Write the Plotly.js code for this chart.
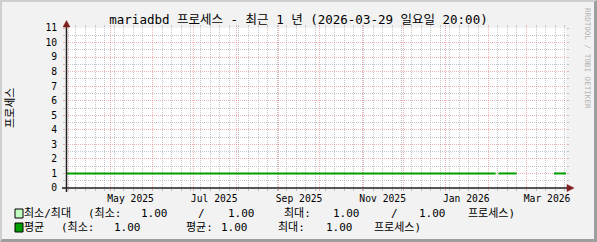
<!DOCTYPE html>
<html>
<head>
<meta charset="utf-8">
<script src="https://cdn.plot.ly/plotly-3.0.1.min.js"></script>
<style>
  html, body { margin: 0; padding: 0; background: #f2f2f2; }
  #wrap { position: relative; width: 597px; height: 242px; }
  #chart { width: 597px; height: 242px; }
  #bevel {
    position: absolute; left: 0; top: 0; width: 597px; height: 242px;
    box-sizing: border-box; pointer-events: none;
    border-style: solid; border-width: 2px 3px 3px 2px;
    border-color: #cfcfcf #9e9e9e #9e9e9e #cfcfcf;
  }
</style>
</head>
<body>
<div id="wrap">
  <div id="chart"></div>
  <div id="bevel"></div>
</div>
<script>
// mariadbd process count over the last year (average, min and max per step)
const sampleTime = ['2025-03-29 20:00', '2026-02-06 12:00', '2026-02-07 12:00', '2026-02-08 12:00',
                    '2026-02-21 18:00', '2026-03-08 00:00', '2026-03-21 00:00', '2026-03-29 20:00'];
const avgProc = [1, 1, null, 1, 1, null, 1, 1];
const minProc = [1, 1, null, 1, 1, null, 1, 1];
const maxProc = [1, 1, null, 1, 1, null, 1, 1];

const rangeStart = '2025-03-29 20:00';
const rangeEnd = '2026-03-29 20:00';

const labelMonths = ['2025-05-01', '2025-07-01', '2025-09-01', '2025-11-01', '2026-01-01', '2026-03-01'];
const labelText = ['May 2025', 'Jul 2025', 'Sep 2025', 'Nov 2025', 'Jan 2026', 'Mar 2026'];

const titleText = 'mariadbd 프로세스 - 최근 1 년 (2026-03-29 일요일 20:00)';
const unitText = '프로세스';
const watermark = 'RRDTOOL / TOBI OETIKER';

// colours
const GRID = 'rgba(143,143,143,0.5)';
const MGRID = 'rgba(222,79,79,0.42)';
const AXIS = '#1f1f1f';
const ARROW = '#801f1f';
const AVG_COL = '#00a000';
const MINMAX_COL = '#c0ffc0';
const MONO = 'DejaVu Sans Mono, Noto Sans CJK KR, monospace';

// geometry of the canvas inside the 597x242 image
const L = 66, R = 566, T = 28, B = 188;
const px = x => (x - L) / (R - L);
const py = y => (B - y) / (B - T);

// month labels sit in the middle of their month (tick + 15 days)
const labelPos = labelMonths.map(m => {
  const d = new Date(m + 'T00:00:00Z');
  d.setUTCDate(d.getUTCDate() + 15);
  return d.toISOString().slice(0, 10);
});

// legend statistics
const vals = a => a.filter(v => v !== null);
const fmt = v => v.toFixed(2);
const avgVals = vals(avgProc);
const statMin = fmt(Math.min(...vals(minProc)));
const statMax = fmt(Math.max(...vals(maxProc)));
const avgMin = fmt(Math.min(...avgVals));
const avgMean = fmt(avgVals.reduce((s, v) => s + v, 0) / avgVals.length);
const avgMax = fmt(Math.max(...avgVals));
const maxMin = fmt(Math.min(...vals(maxProc)));

const traces = [
  { x: sampleTime, y: minProc, type: 'scatter', mode: 'lines', xaxis: 'x2',
    line: { width: 0, color: MINMAX_COL }, showlegend: false, hoverinfo: 'skip' },
  { x: sampleTime, y: maxProc, type: 'scatter', mode: 'lines', xaxis: 'x2', fill: 'tonexty',
    fillcolor: MINMAX_COL, line: { width: 0, color: MINMAX_COL }, showlegend: false, hoverinfo: 'skip' },
  { x: sampleTime, y: avgProc, type: 'scatter', mode: 'lines', connectgaps: false,
    line: { width: 2, color: AVG_COL }, showlegend: false }
];

const legendRows = [
  { y: 213.5, box: MINMAX_COL, parts: [
    ['최소/최대', 23], ['(최소:', 87], [statMin, 140], ['/', 197], [avgMin, 227],
    ['최대:', 283], [statMax, 332], ['/', 390], [maxMin, 418], ['프로세스)', 467]] },
  { y: 227.5, box: AVG_COL, parts: [
    ['평균', 23], ['(최소:', 60], [avgMin, 113], ['평균:', 185], [avgMean, 220],
    ['최대:', 277], [avgMax, 325], ['프로세스)', 373]] }
];

const annotations = [];
const shapes = [];

legendRows.forEach(row => {
  shapes.push({ type: 'rect', xref: 'paper', yref: 'paper',
    x0: px(15), x1: px(23), y0: py(row.y - 4.5), y1: py(row.y + 4.5),
    fillcolor: row.box, line: { color: '#000', width: 1 } });
  row.parts.forEach(([t, x]) => annotations.push({
    text: t, xref: 'paper', yref: 'paper', x: px(x), y: py(row.y),
    xanchor: 'left', yanchor: 'middle', showarrow: false, borderpad: 0,
    font: { family: MONO, size: 11, color: '#000' } }));
});

annotations.push({ text: unitText, xref: 'paper', yref: 'paper', x: px(10), y: py(108),
  xanchor: 'center', yanchor: 'middle', textangle: -90, showarrow: false, borderpad: 0,
  font: { family: MONO, size: 11, color: '#000' } });
annotations.push({ text: watermark, xref: 'paper', yref: 'paper', x: px(588), y: py(58),
  xanchor: 'center', yanchor: 'middle', textangle: 90, showarrow: false, borderpad: 0,
  font: { family: MONO, size: 7.6, color: '#b4b4b4' } });

// axes with arrow heads
shapes.push({ type: 'line', xref: 'paper', yref: 'paper', x0: px(62), x1: px(569), y0: py(188), y1: py(188),
  line: { color: AXIS, width: 1.5 } });
shapes.push({ type: 'line', xref: 'paper', yref: 'paper', x0: px(66.5), x1: px(66.5), y0: py(192), y1: py(25),
  line: { color: AXIS, width: 1.5 } });
shapes.push({ type: 'path', xref: 'paper', yref: 'paper',
  path: `M ${px(567)} ${py(184.5)} L ${px(574)} ${py(188)} L ${px(567)} ${py(191.5)} Z`,
  fillcolor: ARROW, line: { color: ARROW, width: 0.5 } });
shapes.push({ type: 'path', xref: 'paper', yref: 'paper',
  path: `M ${px(63)} ${py(27)} L ${px(66.5)} ${py(20.5)} L ${px(70)} ${py(27)} Z`,
  fillcolor: ARROW, line: { color: ARROW, width: 0.5 } });

const layout = {
  width: 597, height: 242,
  margin: { l: L, r: 597 - R, t: T, b: 242 - B, pad: 0 },
  paper_bgcolor: '#f2f2f2', plot_bgcolor: '#ffffff',
  showlegend: false,
  title: { text: titleText, x: 0.5, xref: 'container', xanchor: 'center',
    y: 1 - 20 / 242, yref: 'container', yanchor: 'middle',
    font: { family: MONO, size: 12.5, color: '#000' } },
  xaxis: {
    type: 'date', range: [rangeStart, rangeEnd], fixedrange: true,
    tick0: '2025-04-01', dtick: 'M1', showticklabels: false,
    showgrid: true, gridcolor: MGRID, griddash: '1px,1px', gridwidth: 1,
    ticks: 'outside', ticklen: 2, tickcolor: MGRID, mirror: 'ticks',
    showline: false, zeroline: false,
    minor: { tick0: '2025-03-30', dtick: 7 * 86400000, showgrid: true, gridcolor: GRID,
      griddash: '1px,1px', gridwidth: 1, ticks: 'outside', ticklen: 2, tickcolor: GRID }
  },
  xaxis2: {
    type: 'date', overlaying: 'x', anchor: 'y', side: 'bottom', range: [rangeStart, rangeEnd],
    fixedrange: true, tickmode: 'array', tickvals: labelPos, ticktext: labelText,
    showgrid: false, zeroline: false, showline: false, ticks: '', ticklabelstandoff: 3,
    tickfont: { family: MONO, size: 9.7, color: '#000' }
  },
  yaxis: {
    range: [0, 11], fixedrange: true, tick0: 0, dtick: 1,
    showgrid: true, gridcolor: MGRID, griddash: '1px,1px', gridwidth: 1,
    ticks: 'outside', ticklen: 2, tickcolor: MGRID, mirror: 'ticks',
    showline: false, zeroline: false, ticklabelstandoff: 4,
    tickfont: { family: MONO, size: 9.7, color: '#000' },
    minor: { dtick: 0.5, showgrid: true, gridcolor: GRID, griddash: '1px,1px', gridwidth: 1,
      ticks: 'outside', ticklen: 2, tickcolor: GRID }
  },
  shapes: shapes,
  annotations: annotations
};

Plotly.newPlot('chart', traces, layout, { staticPlot: true, displayModeBar: false });
</script>
</body>
</html>
